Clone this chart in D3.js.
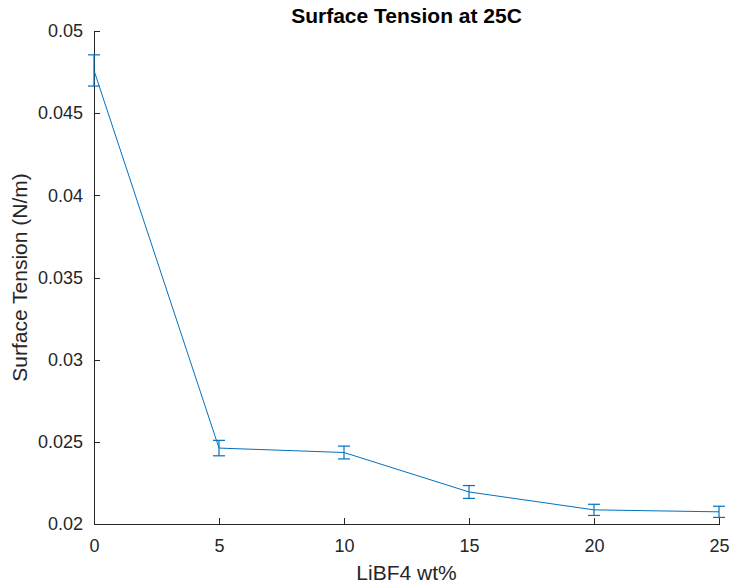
<!DOCTYPE html>
<html>
<head>
<meta charset="utf-8">
<script src="https://cdn.jsdelivr.net/npm/d3@7"></script>
<style>
    body { margin: 0; background: #fff; }
    svg { display: block; font-family: "Liberation Sans", Arial, sans-serif; }
    .axis path, .axis line { stroke: #262626; shape-rendering: crispEdges; }
    .axis text { font-size: 18px; fill: #262626; }
</style>
</head>
<body>
<div id="chart"></div>
<script>
    var wt = [0, 5, 10, 15, 20, 25];
    var tension = [0.04760, 0.02462, 0.02435, 0.02195, 0.02086, 0.02074];
    var errs = [0.00095, 0.00047, 0.00039, 0.00039, 0.00034, 0.00034];
    var xTicks = [0, 5, 10, 15, 20, 25];
    var yTicks = [0.02, 0.025, 0.03, 0.035, 0.04, 0.045, 0.05];

    var W = 730, H = 586;
    var margin = { top: 31, left: 94, right: 11, bottom: 62 };
    var width = W - margin.left - margin.right;
    var height = H - margin.top - margin.bottom;
    var blue = "#0072BD";

    var svg = d3.select("#chart").append("svg")
        .attr("width", W)
        .attr("height", H);

    var g = svg.append("g")
        .attr("transform", "translate(" + margin.left + "," + margin.top + ")");

    var x = d3.scaleLinear().domain([0, 25]).range([0, width]);
    var y = d3.scaleLinear().domain([0.02, 0.05]).range([height, 0]);

    // axes, MATLAB style: ticks point inward
    var xAxis = d3.axisBottom(x).tickValues(xTicks).tickSizeInner(-6).tickSizeOuter(0).tickPadding(16)
        .tickFormat(d3.format("d"));
    var yAxis = d3.axisLeft(y).tickValues(yTicks).tickSizeInner(-6).tickSizeOuter(0).tickPadding(16)
        .tickFormat(function (d) { return String(+d.toFixed(3)); });

    g.append("g").attr("class", "axis")
        .attr("transform", "translate(0," + height + ")")
        .call(xAxis)
        .call(function (s) { s.select(".domain").attr("stroke", "#262626"); s.selectAll("text").attr("dy", "0.71em").attr("y", 15); });

    g.append("g").attr("class", "axis")
        .call(yAxis)
        .call(function (s) { s.selectAll("text").attr("x", -11); });

    d3.selectAll(".axis text").attr("font-family", null);

    var pts = wt.map(function (d, i) { return { x: d, y: tension[i], e: errs[i] }; });

    // line
    g.append("path")
        .datum(pts)
        .attr("fill", "none")
        .attr("stroke", blue)
        .attr("stroke-width", 1)
        .attr("d", d3.line().x(function (d) { return x(d.x); }).y(function (d) { return y(d.y); }));

    // error bars
    var eb = g.selectAll(".err").data(pts).enter().append("g").attr("class", "err")
        .attr("stroke", blue).attr("stroke-width", 1.2);
    eb.append("line")
        .attr("x1", function (d) { return x(d.x); }).attr("x2", function (d) { return x(d.x); })
        .attr("y1", function (d) { return y(d.y - d.e); }).attr("y2", function (d) { return y(d.y + d.e); });
    eb.append("line")
        .attr("x1", function (d) { return x(d.x) - 6; }).attr("x2", function (d) { return x(d.x) + 6; })
        .attr("y1", function (d) { return y(d.y + d.e); }).attr("y2", function (d) { return y(d.y + d.e); });
    eb.append("line")
        .attr("x1", function (d) { return x(d.x) - 6; }).attr("x2", function (d) { return x(d.x) + 6; })
        .attr("y1", function (d) { return y(d.y - d.e); }).attr("y2", function (d) { return y(d.y - d.e); });

    // title and labels
    svg.append("text")
        .attr("x", margin.left + width / 2).attr("y", 23)
        .attr("text-anchor", "middle")
        .attr("font-size", "21px").attr("font-weight", "bold").attr("fill", "#000")
        .text("Surface Tension at 25C");

    svg.append("text")
        .attr("x", margin.left + width / 2).attr("y", 580)
        .attr("text-anchor", "middle")
        .attr("font-size", "21px").attr("fill", "#262626")
        .text("LiBF4 wt%");

    svg.append("text")
        .attr("transform", "translate(27," + (margin.top + height / 2) + ") rotate(-90)")
        .attr("text-anchor", "middle")
        .attr("font-size", "21px").attr("fill", "#262626")
        .text("Surface Tension (N/m)");
</script>
</body>
</html>
